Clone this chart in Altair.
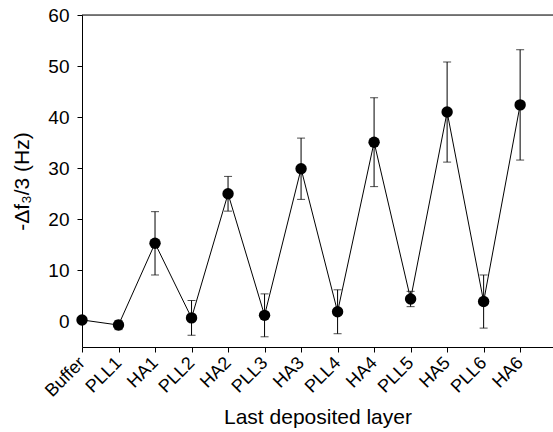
import altair as alt
import pandas as pd

layers = ["Buffer", "PLL1", "HA1", "PLL2", "HA2", "PLL3", "HA3",
          "PLL4", "HA4", "PLL5", "HA5", "PLL6", "HA6"]
values = [0.3, -0.7, 15.3, 0.7, 25.0, 1.2, 29.9, 1.9, 35.1, 4.4, 41.0, 3.9, 42.4]
errors = [0.0, 0.9, 6.2, 3.4, 3.4, 4.2, 6.0, 4.3, 8.7, 1.5, 9.8, 5.2, 10.8]

df = pd.DataFrame({
    "idx": list(range(len(layers))),
    "layer": layers,
    "value": values,
    "err": errors,
})
df["lo"] = df["value"] - df["err"]
df["hi"] = df["value"] + df["err"]
eb = df[df["err"] > 0]

font = "Liberation Sans"
label_expr = "[" + ",".join("'%s'" % l for l in layers) + "][datum.value]"

xscale = alt.Scale(domain=[0, 12.9], nice=False, zero=False)
yscale = alt.Scale(domain=[-5, 60], nice=False, zero=False)

xaxis = alt.Axis(values=list(range(len(layers))), labelExpr=label_expr,
                 labelAngle=-45, labelAlign="right", labelBaseline="middle",
                 labelFontSize=18, labelPadding=8, tickSize=5,
                 labelOverlap=False, labelBound=False, labelFlush=False,
                 title="Last deposited layer", titleFontSize=21,
                 titleFontWeight="normal", titlePadding=6, grid=False,
                 domainColor="black", tickColor="black", labelColor="black",
                 titleColor="black", labelFont=font, titleFont=font)
yaxis = alt.Axis(values=[0, 10, 20, 30, 40, 50, 60], labelFontSize=19,
                 labelPadding=8, tickSize=5, title="-Δf₃/3  (Hz)",
                 labelOverlap=False,
                 titleFontSize=21, titleFontWeight="normal", titlePadding=15,
                 grid=False, domainColor="black", tickColor="black",
                 labelColor="black", titleColor="black",
                 labelFont=font, titleFont=font)


def X():
    return alt.X("idx:Q", scale=xscale, axis=xaxis)


def Y(field):
    return alt.Y(field, scale=yscale, axis=yaxis)


base = alt.Chart(df)

line = base.mark_line(color="black", strokeWidth=1).encode(
    x=X(), y=Y("value:Q"),
)
bars = alt.Chart(eb).mark_rule(color="black", strokeWidth=1).encode(
    x=X(), y=Y("lo:Q"), y2="hi:Q",
)
caps_hi = alt.Chart(eb).mark_tick(color="black", orient="horizontal",
                                  size=8, thickness=1).encode(
    x=X(), y=Y("hi:Q"),
)
caps_lo = alt.Chart(eb).mark_tick(color="black", orient="horizontal",
                                  size=8, thickness=1).encode(
    x=X(), y=Y("lo:Q"),
)
points = base.mark_point(filled=True, color="black", size=130, opacity=1).encode(
    x=X(), y=Y("value:Q"),
)
top = alt.Chart(pd.DataFrame({"y": [60]})).mark_rule(color="black", strokeWidth=1).encode(
    y=Y("y:Q"),
)

chart = alt.layer(line, bars, caps_hi, caps_lo, points, top).properties(
    width=471, height=332,
    padding={"left": 82, "top": 15, "right": 0, "bottom": 85},
    autosize="none",
).configure_view(stroke=None).configure(background="white")

chart.save("out.html", embed_options={"renderer": "svg", "actions": False})
